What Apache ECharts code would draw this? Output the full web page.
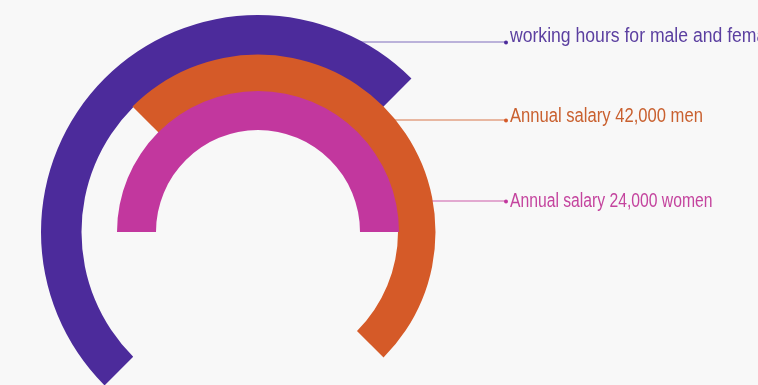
<!DOCTYPE html>
<html><head><meta charset="utf-8">
<script src="https://cdn.jsdelivr.net/npm/echarts@6/dist/echarts.min.js"></script>
<style>html,body{margin:0;padding:0;background:#f8f8f8;}#c{width:758px;height:385px;}</style>
</head><body><div id="c"></div>
<script>
// data
const categories = ['working hours for male and female', 'Annual salary 42,000 men', 'Annual salary 24,000 women'];
const arcShare = [50, 50, 50];          // share of full circle covered by each ring (%)
const startAngles = [225, 135, 180];    // where each ring starts (deg)

// layout / style
const labelYs = [42, 120, 201];
const textBaselines = [41, 121, 206];
const textScales = [0.88, 0.83, 0.785];
const colors = ['#4c2b9b', '#d55a28', '#c2379e'];
const textColors = ['#5b3fa0', '#c9602f', '#c4449e'];
const lineColors = ['#7f6cbc', '#d8764a', '#cc5aa8'];
const radii = [[176.5, 217], [140, 177.5], [102, 141]];
const cx = 258, cy = 232;

const series = categories.map((name, i) => ({
  type: 'pie',
  name: name,
  center: [cx, cy],
  radius: radii[i],
  startAngle: startAngles[i],
  clockwise: true,
  silent: true,
  label: {show: false},
  labelLine: {show: false},
  emphasis: {disabled: true},
  itemStyle: {borderWidth: 0},
  animation: false,
  data: [
    {value: arcShare[i], name: name, itemStyle: {color: colors[i], borderWidth: 0}},
    {value: 100 - arcShare[i], name: '', itemStyle: {color: 'transparent', borderWidth: 0}}
  ]
}));

const graphic = [];
categories.forEach((name, i) => {
  const r = radii[i][1];
  const dy = cy - labelYs[i];
  const x0 = cx + Math.sqrt(Math.max(r * r - dy * dy, 0)) - 2;
  graphic.push({type: 'line', silent: true, shape: {x1: x0, y1: labelYs[i], x2: 506, y2: labelYs[i]}, style: {stroke: lineColors[i], lineWidth: 1}});
  graphic.push({type: 'circle', silent: true, shape: {cx: 506, cy: labelYs[i] + 0.5, r: 2}, style: {fill: colors[i]}});
  graphic.push({type: 'text', silent: true, x: 510, y: textBaselines[i] + 5, scaleX: textScales[i], style: {text: name, fill: textColors[i], font: '20px "Liberation Sans", Arial, sans-serif', textVerticalAlign: 'bottom', textAlign: 'left'}});
});

const chart = echarts.init(document.getElementById('c'));
chart.setOption({backgroundColor: '#f8f8f8', animation: false, series: series, graphic: graphic});
</script></body></html>
